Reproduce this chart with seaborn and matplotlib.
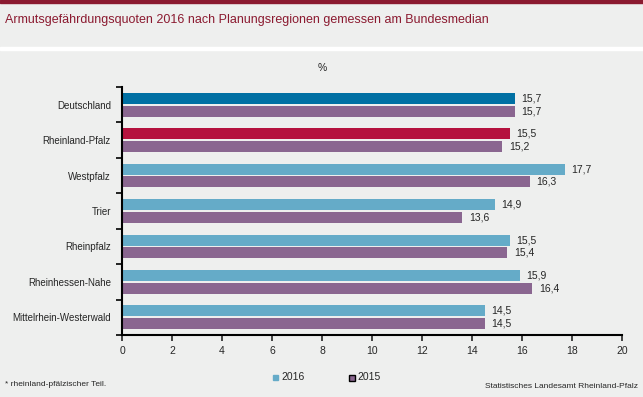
import pandas as pd
import numpy as np
import matplotlib
matplotlib.use("Agg")
import matplotlib.pyplot as plt
import seaborn as sns
from matplotlib.patches import Rectangle

# Daten
regionen = ['Deutschland', 'Rheinland-Pfalz', 'Westpfalz', 'Trier',
            'Rheinpfalz', 'Rheinhessen-Nahe', 'Mittelrhein-Westerwald']
werte_2016 = [15.7, 15.5, 17.7, 14.9, 15.5, 15.9, 14.5]
werte_2015 = [15.7, 15.2, 16.3, 13.6, 15.4, 16.4, 14.5]
jahre = ['2016', '2015']

BG = '#EEEFEE'
ROT = '#8B1A30'
c2016 = '#65ABC8'
c2015 = '#8A6690'
c_de = '#0070A3'
c_rp = '#B5123E'

df = pd.DataFrame({
    'Region': regionen * 2,
    'Wert': werte_2016 + werte_2015,
    'Jahr': ['2016'] * len(regionen) + ['2015'] * len(regionen),
})

sns.set_style('ticks')
plt.rcParams['font.family'] = ['Liberation Sans', 'DejaVu Sans']

fig = plt.figure(figsize=(6.43, 3.97), dpi=100, facecolor=BG)
# Kopfzeile
fig.patches.append(Rectangle((0, 1 - 3/397), 1, 3/397, transform=fig.transFigure,
                             color=ROT, zorder=0))
fig.patches.append(Rectangle((0, 1 - 49.5/397), 1, 2.5/397, transform=fig.transFigure,
                             color='white', zorder=0))
fig.text(5/643, 1 - 20/397, 'Armutsgefährdungsquoten 2016 nach Planungsregionen gemessen am Bundesmedian',
         color=ROT, fontsize=9, va='center', ha='left')

ax = fig.add_axes([122/643, 1 - 335/397, 500/643, 248/397])
ax.set_facecolor(BG)
sns.barplot(data=df, y='Region', x='Wert', hue='Jahr', hue_order=jahre, order=regionen,
            orient='h', palette=[c2016, c2015], width=0.72, gap=0.14,
            legend=False, ax=ax, saturation=1, linewidth=0)

# Balken einfärben (Deutschland, Rheinland-Pfalz)
bars_2016 = ax.containers[0]
bars_2016[0].set_facecolor(c_de)
bars_2016[1].set_facecolor(c_rp)

for cont in ax.containers:
    labels = [f'{v:.1f}'.replace('.', ',') for v in cont.datavalues]
    ax.bar_label(cont, labels=labels, padding=5, fontsize=7.5)

ax.set_xlim(0, 20)
ax.set_xticks(range(0, 21, 2))
ax.set_ylim(len(regionen) - 0.5, -0.5)
ax.set_yticks(np.arange(-0.5, len(regionen), 1))
ax.set_yticklabels([])
ax.set_yticks(range(len(regionen)), minor=True)
ax.set_yticklabels(regionen, minor=True, fontsize=7)
ax.tick_params(axis='y', which='minor', length=0, pad=8)
ax.tick_params(axis='y', which='major', length=4, width=1.2, color='black')
ax.tick_params(axis='x', length=4, width=1.2, labelsize=7.5, pad=4)
ax.set_xlabel('')
ax.set_ylabel('')
for s in ['top', 'right']:
    ax.spines[s].set_visible(False)
for s in ['left', 'bottom']:
    ax.spines[s].set_linewidth(1.5)
    ax.spines[s].set_color('black')

fig.text(322/643, 1 - 68/397, '%', fontsize=7.5, ha='center', va='center')

# Legende
fig.patches.append(Rectangle((273/643, 1 - 380/397), 5/643, 5/397,
                             transform=fig.transFigure, color=c2016))
fig.text(281/643, 1 - 377/397, '2016', fontsize=7.5, va='center')
fig.patches.append(Rectangle((349/643, 1 - 380.5/397), 6/643, 6/397,
                             transform=fig.transFigure, facecolor=c2015,
                             edgecolor='black', linewidth=1))
fig.text(357/643, 1 - 377/397, '2015', fontsize=7.5, va='center')

fig.text(5/643, 1 - 384/397, '* rheinland-pfälzischer Teil.', fontsize=6, va='center')
fig.text(638/643, 1 - 387/397, 'Statistisches Landesamt Rheinland-Pfalz', fontsize=6,
         va='center', ha='right')

fig.savefig('out.png', dpi=100, facecolor=BG)
